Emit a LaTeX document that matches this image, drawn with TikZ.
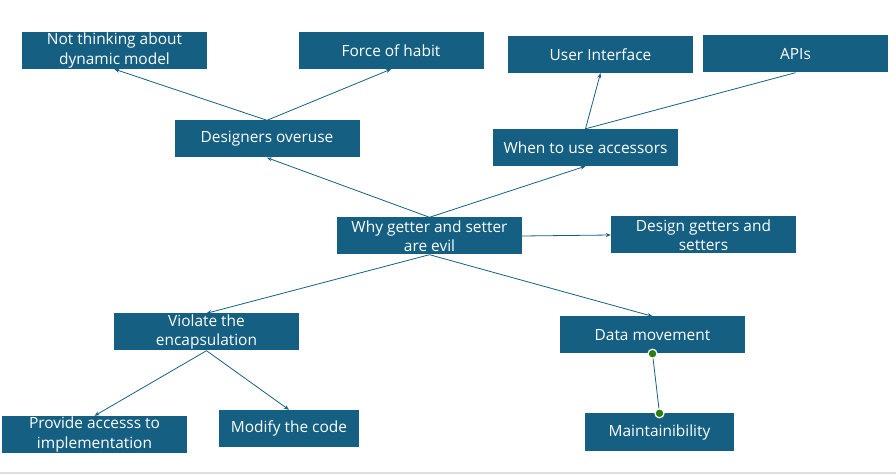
\documentclass[tikz,border=0pt]{standalone}
\usepackage{fontspec}
\setmainfont{Open Sans}
\usetikzlibrary{arrows.meta}
\definecolor{boxblue}{HTML}{156082}
\definecolor{dotgreen}{HTML}{2E7D0F}

\begin{document}
\begin{tikzpicture}[x=1bp,y=-1bp,
        box/.style={fill=boxblue,text=white,minimum width=185bp,minimum height=37bp,inner sep=0pt,align=center,font=\fontsize{15.5}{19.5}\selectfont},
        link/.style={boxblue,line width=0.8bp,-{Stealth[length=5bp,width=4bp]}},
        handle/.style={circle,fill=dotgreen,draw=white,line width=1.2bp,minimum size=9bp,inner sep=0pt}]
        \useasboundingbox (0,0) rectangle (896,475);
        \draw[gray!25,line width=2bp] (0,473) -- (896,473);
        \node[box] (why) at (429.5,236) {Why getter and setter\\are evil};
        \node[box] (overuse) at (267,139) {Designers overuse};
        \node[box] (think) at (114.5,50.5) {Not thinking about\\dynamic model};
        \node[box] (habit) at (391,50.5) {Force of habit};
        \node[box] (when) at (585.5,147.5) {When to use accessors};
        \node[box] (ui) at (600.5,54.5) {User Interface};
        \node[box] (apis) at (795.5,54) {APIs};
        \node[box] (design) at (703.5,235) {Design getters and\\setters};
        \node[box] (violate) at (206.5,332) {Violate the\\encapsulation};
        \node[box] (provide) at (94.5,434.5) {Provide accesss to\\implementation};
        \node[box,minimum width=140bp] (modify) at (289,428.5) {Modify the code};
        \node[box] (datamove) at (652.5,335) {Data movement};
        \node[box,minimum width=149bp] (maintain) at (659.5,432) {Maintainibility};
        \draw[link] (overuse.north) -- (think.south);
        \draw[link] (overuse.north) -- (habit.south);
        \draw[link] (why.north) -- (overuse.south);
        \draw[link] (why.north) -- (when.south);
        \draw[link] (when.north) -- (ui.south);
        \draw[boxblue,line width=0.8bp] (when.north) -- (apis.south);
        \draw[link] (why.east) -- (design.west);
        \draw[link] (why.south) -- (violate.north);
        \draw[link] (why.south) -- (datamove.north);
        \draw[link] (violate.south) -- (provide.north);
        \draw[link] (violate.south) -- (modify.north);
        \draw[boxblue,line width=0.8bp] (datamove.south) -- (maintain.north);
        \node[handle] (h1) at (datamove.south) {};
        \node[handle] (h2) at (maintain.north) {};
\end{tikzpicture}
\end{document}
